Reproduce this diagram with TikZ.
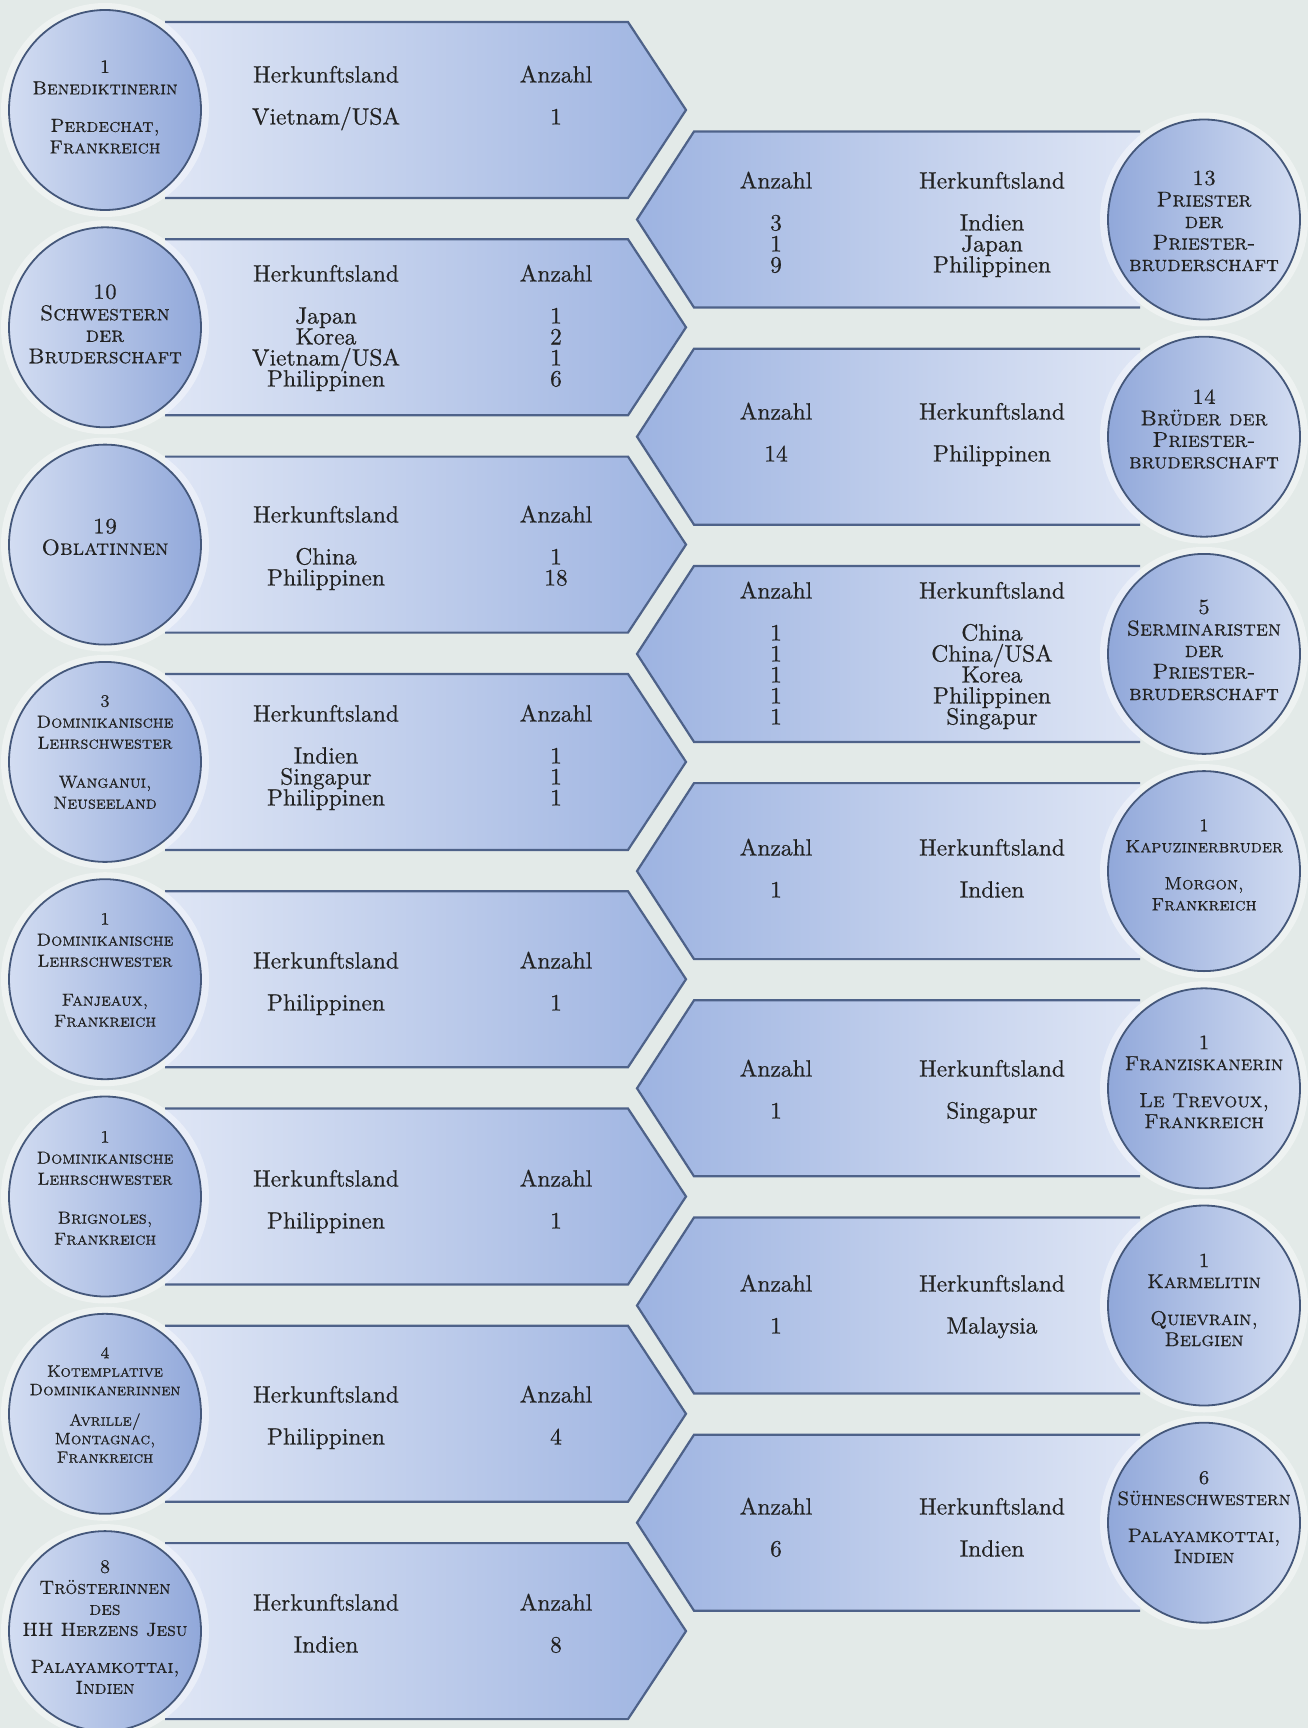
\documentclass[tikz,border=0pt]{standalone}
\usepackage{fontspec}
\setmainfont{lmroman10-regular.otf}[FakeBold=0.5, SmallCapsFont=lmromancaps10-regular.otf, SmallCapsFeatures={FakeBold=0.5}]
\usetikzlibrary{shapes.geometric}
\definecolor{bgc}{HTML}{E3EAE8}
\definecolor{alight}{HTML}{DFE6F5}
\definecolor{adark}{HTML}{9DB3E1}
\definecolor{aborder}{HTML}{4E6289}
\definecolor{clight}{HTML}{D3DDF2}
\definecolor{cdark}{HTML}{91A8DA}
\definecolor{cborder}{HTML}{44577A}
\definecolor{txt}{HTML}{222222}
\newcommand\arrowtextL[4]{%
  \node[hdr] (#1h1) at (326,#2) {Herkunftsland};
  \node[hdr] (#1h2) at (556,#2) {Anzahl};
  \foreach \t [count=\i] in {#3} \node[hdr] (#1c\i) at (326,{#2+42+21*(\i-1)}) {\t};
  \foreach \t [count=\i] in {#4} \node[hdr] (#1n\i) at (556,{#2+42+21*(\i-1)}) {\t};
}
\newcommand\arrowtextR[4]{%
  \node[hdr] (#1h1) at (992,#2) {Herkunftsland};
  \node[hdr] (#1h2) at (776,#2) {Anzahl};
  \foreach \t [count=\i] in {#3} \node[hdr] (#1c\i) at (992,{#2+42+21*(\i-1)}) {\t};
  \foreach \t [count=\i] in {#4} \node[hdr] (#1n\i) at (776,{#2+42+21*(\i-1)}) {\t};
}
\newcommand\cfont[2]{\fontsize{#1}{#2}\selectfont\scshape}
\begin{document}
\begin{tikzpicture}[x=1pt,y=-1pt,
  hdr/.style={anchor=base, font=\fontsize{23.5}{21}\selectfont, text=txt, inner sep=0pt},
  ctext/.style={align=center, text=txt, inner sep=0pt, anchor=center},
  glow/.style={ellipse, fill=white, opacity=0.4, minimum width=208pt, minimum height=214pt, inner sep=0pt},
  circL/.style={ellipse, draw=cborder, line width=1.8pt, left color=clight, right color=cdark, minimum width=192pt, minimum height=200pt, inner sep=0pt},
  circR/.style={ellipse, draw=cborder, line width=1.8pt, left color=cdark, right color=clight, minimum width=192pt, minimum height=200pt, inner sep=0pt},
  aline/.style={draw=aborder, line width=2.2pt, line join=miter}]
\fill[bgc] (0,0) rectangle (1308,1728);
\useasboundingbox (0,0) rectangle (1308,1728);
% left arrows
\foreach \k in {0,...,7} {
  \pgfmathsetmacro\c{110+217.3*\k}
  \shade[left color=alight, right color=adark] (165,{\c-88}) -- (628,{\c-88}) -- (686,\c) -- (628,{\c+88}) -- (165,{\c+88}) -- cycle;
  \draw[aline] (165,{\c-88}) -- (628,{\c-88}) -- (686,\c) -- (628,{\c+88}) -- (165,{\c+88});
}
% right arrows
\foreach \k in {0,...,6} {
  \pgfmathsetmacro\c{219.5+217.2*\k}
  \shade[left color=adark, right color=alight] (1140,{\c-88}) -- (694,{\c-88}) -- (637,\c) -- (694,{\c+88}) -- (1140,{\c+88}) -- cycle;
  \draw[aline] (1140,{\c-88}) -- (694,{\c-88}) -- (637,\c) -- (694,{\c+88}) -- (1140,{\c+88});
}
% glows and circles
\foreach \k in {0,...,7} {
  \pgfmathsetmacro\c{110+217.3*\k}
  \node[glow] (gL\k) at (105,\c) {};
  \node[circL] (cL\k) at (105,\c) {};
}
\foreach \k in {0,...,6} {
  \pgfmathsetmacro\c{219.5+217.2*\k}
  \node[glow] (gR\k) at (1204,\c) {};
  \node[circR] (cR\k) at (1204,\c) {};
}
% arrow texts left
\arrowtextL{a1}{82.5}{Vietnam/USA}{1}
\arrowtextL{a2}{281.5}{Japan,Korea,Vietnam/USA,Philippinen}{1,2,1,6}
\arrowtextL{a3}{522.5}{China,Philippinen}{1,18}
\arrowtextL{a4}{721.5}{Indien,Singapur,Philippinen}{1,1,1}
\arrowtextL{a5}{968.5}{Philippinen}{1}
\arrowtextL{a6}{1186.5}{Philippinen}{1}
\arrowtextL{a7}{1402.5}{Philippinen}{4}
\arrowtextL{a8}{1610.5}{Indien}{8}
% arrow texts right
\arrowtextR{b1}{188.5}{Indien,Japan,Philippinen}{3,1,9}
\arrowtextR{b2}{419.5}{Philippinen}{14}
\arrowtextR{b3}{598.5}{China,China/USA,Korea,Philippinen,Singapur}{1,1,1,1,1}
\arrowtextR{b4}{855.5}{Indien}{1}
\arrowtextR{b5}{1076.5}{Singapur}{1}
\arrowtextR{b6}{1291.5}{Malaysia}{1}
\arrowtextR{b7}{1514.5}{Indien}{6}
% circle texts left
\node[ctext, font=\cfont{19}{21.5}] (tL0) at (105,107) {1\\Benediktinerin\\[16pt]Perdechat,\\Frankreich};
\node[ctext, font=\cfont{21.5}{21.5}] (tL1) at (105,324) {10\\Schwestern\\der\\Bruderschaft};
\node[ctext, font=\cfont{22}{21.5}] (tL2) at (105,537) {19\\Oblatinnen};
\node[ctext, font=\cfont{17.5}{21}] (tL3) at (105,752) {3\\Dominikanische\\Lehrschwester\\[18pt]Wanganui,\\Neuseeland};
\node[ctext, font=\cfont{17.5}{21}] (tL4) at (105,970) {1\\Dominikanische\\Lehrschwester\\[18pt]Fanjeaux,\\Frankreich};
\node[ctext, font=\cfont{17.5}{21}] (tL5) at (105,1188) {1\\Dominikanische\\Lehrschwester\\[18pt]Brignoles,\\Frankreich};
\node[ctext, font=\cfont{16.5}{18.5}] (tL6) at (105,1405) {4\\Kotemplative\\Dominikanerinnen\\[12pt]Avrille/\\Montagnac,\\Frankreich};
\node[ctext, font=\cfont{19}{21}] (tL7) at (105,1627) {8\\Trösterinnen\\des\\HH Herzens Jesu\\[16pt]Palayamkottai,\\Indien};
% circle texts right
\node[ctext, font=\cfont{21.5}{21.5}] (tR0) at (1204,221) {13\\Priester\\der\\Priester-\\bruderschaft};
\node[ctext, font=\cfont{21.5}{21.5}] (tR1) at (1204,429) {14\\Brüder der\\Priester-\\bruderschaft};
\node[ctext, font=\cfont{21.5}{21.5}] (tR2) at (1204,650) {5\\Serminaristen\\der\\Priester-\\bruderschaft};
\node[ctext, font=\cfont{18}{21}] (tR3) at (1204,865) {1\\Kapuzinerbruder\\[16pt]Morgon,\\Frankreich};
\node[ctext, font=\cfont{20.5}{21}] (tR4) at (1204,1082) {1\\Franziskanerin\\[16pt]Le Trevoux,\\Frankreich};
\node[ctext, font=\cfont{20}{21}] (tR5) at (1204,1300) {1\\Karmelitin\\[16pt]Quievrain,\\Belgien};
\node[ctext, font=\cfont{19.5}{21}] (tR6) at (1204,1517) {6\\Sühneschwestern\\[16pt]Palayamkottai,\\Indien};
\end{tikzpicture}
\end{document}
